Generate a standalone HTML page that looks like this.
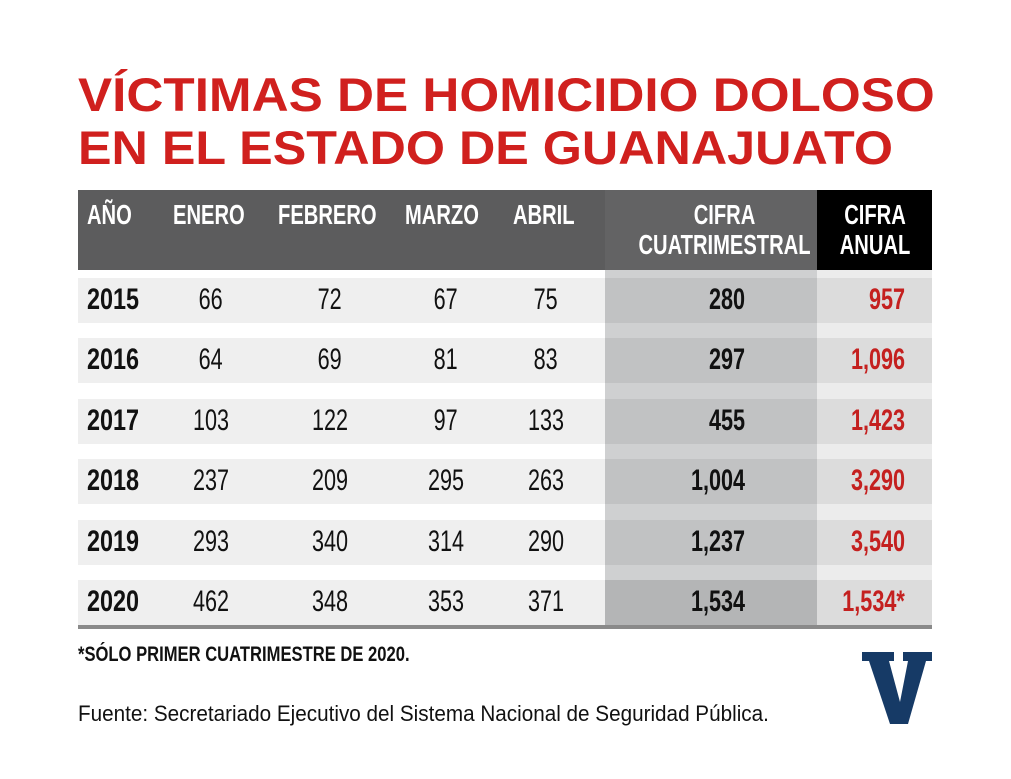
<!DOCTYPE html>
<html><head><meta charset="utf-8"><style>
body{margin:0;width:1011px;height:779px;background:#fff;position:relative;overflow:hidden;font-family:"Liberation Sans",sans-serif}
.t{position:absolute;left:78px;font-weight:bold;color:#d0201e;font-size:47px;white-space:nowrap;transform-origin:left top;line-height:1}
.a{position:absolute}
.h{position:absolute;color:#fff;font-weight:bold;font-size:28px;line-height:30px;white-space:nowrap}
.n{position:absolute;font-size:30px;color:#111;white-space:nowrap;line-height:30px}
.s{display:inline-block;transform:scaleX(0.72)}
.y{font-weight:bold}
.r{color:#c4201f;font-weight:bold}
</style></head><body>
<div class="t" style="top:71px;transform:scaleX(1.09)">VÍCTIMAS DE HOMICIDIO DOLOSO</div>
<div class="t" style="top:124px;transform:scaleX(1.07)">EN EL ESTADO DE GUANAJUATO</div>

<div class="a" style="left:78px;top:190px;width:527px;height:80px;background:#5c5c5d"></div>
<div class="a" style="left:605px;top:190px;width:212px;height:80px;background:#636364"></div>
<div class="a" style="left:817px;top:190px;width:115px;height:80px;background:#000"></div>
<div class="a" style="left:605px;top:270px;width:212px;height:355px;background:#cfd0d1"></div>
<div class="a" style="left:817px;top:270px;width:115px;height:355px;background:#ececec"></div>
<div class="a" style="left:78px;top:625px;width:854px;height:4px;background:#8a8a8a"></div>

<div class="h" style="left:87px;top:200px"><span class="s" style="transform-origin:left">AÑO</span></div>
<div class="h" style="left:173px;top:200px"><span class="s" style="transform-origin:left">ENERO</span></div>
<div class="h" style="left:278px;top:200px"><span class="s" style="transform-origin:left">FEBRERO</span></div>
<div class="h" style="left:405px;top:200px"><span class="s" style="transform-origin:left">MARZO</span></div>
<div class="h" style="left:513px;top:200px"><span class="s" style="transform-origin:left">ABRIL</span></div>
<div class="h" style="left:605px;width:212px;text-align:center;top:200px"><span class="s">CIFRA<br>CUATRIMESTRAL</span></div>
<div class="h" style="left:817px;width:115px;text-align:center;top:200px"><span class="s">CIFRA<br>ANUAL</span></div>

<div id="rows"></div>
<script>
var d=[["2015","66","72","67","75","280","957"],["2016","64","69","81","83","297","1,096"],["2017","103","122","97","133","455","1,423"],["2018","237","209","295","263","1,004","3,290"],["2019","293","340","314","290","1,237","3,540"],["2020","462","348","353","371","1,534","1,534*"]];
var h="";var cx=[211,330,446,546];
d.forEach(function(r,i){var t=278+i*60.4;
h+='<div class="a" style="left:78px;top:'+t+'px;width:527px;height:45px;background:#efefef"></div>';
h+='<div class="a" style="left:605px;top:'+t+'px;width:212px;height:45px;background:'+(i==5?'#b4b5b6':'#c1c2c3')+'"></div>';
h+='<div class="a" style="left:817px;top:'+t+'px;width:115px;height:45px;background:#dcdcdc"></div>';
var ty=t+7;
h+='<div class="n y" style="left:87px;top:'+ty+'px"><span class="s" style="transform:scaleX(0.78);transform-origin:left">'+r[0]+'</span></div>';
for(var k=0;k<4;k++)h+='<div class="n" style="left:'+(cx[k]-60)+'px;width:120px;text-align:center;top:'+ty+'px"><span class="s">'+r[k+1]+'</span></div>';
h+='<div class="n" style="left:600px;width:145px;text-align:right;top:'+ty+'px;font-weight:bold"><span class="s" style="transform-origin:right">'+r[5]+'</span></div>';
h+='<div class="n r" style="left:780px;width:125px;text-align:right;top:'+ty+'px"><span class="s" style="transform-origin:right">'+r[6]+'</span></div>';});
document.getElementById("rows").innerHTML=h;
</script>
<div class="n" style="left:78px;top:640px;font-size:21px;font-weight:bold"><span class="s" style="transform:scaleX(0.79);transform-origin:left">*SÓLO PRIMER CUATRIMESTRE DE 2020.</span></div>
<div class="n" style="left:78px;top:699px;font-size:22px"><span class="s" style="transform:scaleX(0.94);transform-origin:left">Fuente: Secretariado Ejecutivo del Sistema Nacional de Seguridad Pública.</span></div>
<svg class="a" style="left:862px;top:652px" width="70" height="72" viewBox="0 0 70 72"><path d="M0 0H32V9H27L38 50L46 9H41V0H70V9H64L46 72H28L7 9H0Z" fill="#163a66"/></svg>
</body></html>
